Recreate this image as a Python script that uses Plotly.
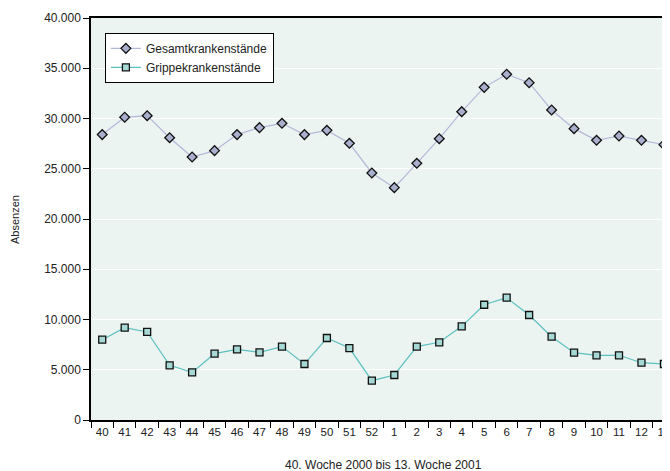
import plotly.graph_objects as go

weeks = ["40","41","42","43","44","45","46","47","48","49","50","51","52",
         "1","2","3","4","5","6","7","8","9","10","11","12","13"]
gesamt = [28400, 30120, 30280, 28090, 26170, 26800, 28400, 29090, 29520, 28400, 28820, 27530, 24580,
          23120, 25540, 27990, 30680, 33100, 34400, 33560, 30850, 28990, 27830, 28260, 27830, 27400]
grippe = [7990, 9190, 8760, 5440, 4740, 6600, 7030, 6730, 7300, 5570, 8160, 7160, 3910,
          4480, 7300, 7730, 9320, 11470, 12170, 10450, 8290, 6700, 6440, 6440, 5700, 5570]
yticks = [0, 5000, 10000, 15000, 20000, 25000, 30000, 35000, 40000]
yticktext = ["0", "5.000", "10.000", "15.000", "20.000", "25.000", "30.000", "35.000", "40.000"]

FONT = "Liberation Sans, Arial, sans-serif"
TXT = "#222222"

fig = go.Figure()
fig.add_trace(go.Scatter(
    x=weeks, y=gesamt, name="Gesamtkrankenstände", mode="lines+markers",
    line=dict(color="#B4B8DA", width=1.2),
    marker=dict(symbol="diamond", size=7.5, color="#A9AFCC", line=dict(color="#111111", width=1.3)),
))
fig.add_trace(go.Scatter(
    x=weeks, y=grippe, name="Grippekrankenstände", mode="lines+markers",
    line=dict(color="#5CC0C0", width=1.2),
    marker=dict(symbol="square", size=7, color="#A6D9D5", line=dict(color="#111111", width=1.3)),
))

fig.update_layout(
    width=662, height=463,
    margin=dict(l=83, r=0, t=10, b=51),
    paper_bgcolor="white", plot_bgcolor="#EBF4F1",
    font=dict(family=FONT, size=12, color=TXT),
    showlegend=True,
    legend=dict(x=0.024, y=0.963, xanchor="left", yanchor="top",
                bgcolor="white", bordercolor="black", borderwidth=1,
                font=dict(family=FONT, size=12, color=TXT),
                tracegroupgap=0, itemwidth=30),
    xaxis=dict(
        type="category", range=[-0.5, 25.27], automargin=False,
        tickson="boundaries", ticks="outside", ticklen=6, tickcolor="black",
        tickangle=0,
        showgrid=False, showline=True, linecolor="black", linewidth=1.5, mirror=True,
        tickfont=dict(family=FONT, size=11.5, color=TXT),
    ),
    yaxis=dict(
        range=[0, 40000], tickvals=yticks, ticktext=yticktext, automargin=False,
        ticks="outside", ticklen=6, tickcolor="black",
        showgrid=True, gridcolor="white", gridwidth=1.2,
        showline=True, linecolor="black", linewidth=1.5, mirror=True,
        zeroline=False,
        tickfont=dict(family=FONT, size=12, color=TXT),
    ),
    annotations=[
        dict(text="40. Woche 2000 bis 13. Woche 2001", xref="paper", yref="paper",
             x=(383 - 91) / 579, y=-45 / 402, xanchor="center", yanchor="middle",
             showarrow=False, font=dict(family=FONT, size=12, color=TXT)),
        dict(text="Absenzen", xref="paper", yref="paper",
             x=-76 / 579, y=0.5, xanchor="center", yanchor="middle", textangle=-90,
             showarrow=False, font=dict(family=FONT, size=11, color=TXT)),
    ],
)

fig.write_html("out.html")
